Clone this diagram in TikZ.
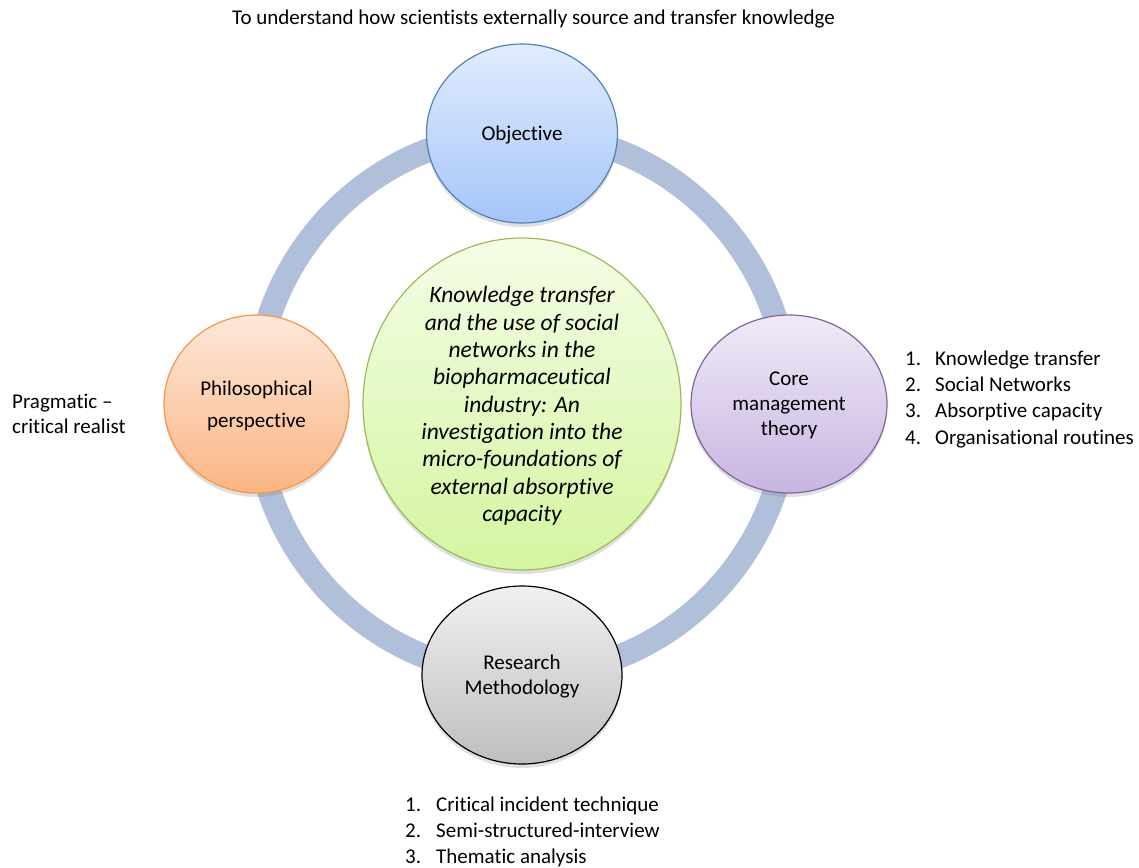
\documentclass[tikz,border=0pt]{standalone}
\usepackage{fontspec}
\setmainfont{Carlito}[Ligatures=NoCommon]
\usetikzlibrary{shapes.geometric,shadows}
\definecolor{ringblue}{RGB}{176,192,218}
\definecolor{bluetop}{RGB}{226,236,253}
\definecolor{bluebot}{RGB}{165,197,248}
\definecolor{blueedge}{RGB}{79,129,189}
\definecolor{orangetop}{RGB}{253,232,218}
\definecolor{orangebot}{RGB}{251,181,130}
\definecolor{orangeedge}{RGB}{247,150,70}
\definecolor{purpletop}{RGB}{240,234,247}
\definecolor{purplebot}{RGB}{200,181,225}
\definecolor{purpleedge}{RGB}{128,100,162}
\definecolor{greytop}{RGB}{240,240,240}
\definecolor{greybot}{RGB}{190,190,190}
\definecolor{greentop}{RGB}{244,253,230}
\definecolor{greenbot}{RGB}{212,245,160}
\definecolor{greenedge}{RGB}{155,187,89}
\begin{document}
\begin{tikzpicture}[x=1pt,y=-1pt]
\tikzstyle{every node}+=[inner sep=0pt, text depth=0pt, font=\fontsize{21}{25}\selectfont]
\tikzstyle{bubble}=[ellipse, draw, line width=1.2pt, align=center, drop shadow={opacity=0.25, shadow xshift=0pt, shadow yshift=-4pt}]
\tikzstyle{listing}=[anchor=west, align=left, font=\fontsize{21}{26.3}\selectfont]
\useasboundingbox [fill=white] (0,0) rectangle (1139,867);
\coordinate (hub) at (522,404);
\draw [ringblue, line width=24pt] (hub) circle [x radius=267pt, y radius=271pt];
\node [bubble, minimum width=318pt, minimum height=315pt, draw=greenedge, top color=greentop, bottom color=greenbot, font=\fontsize{23.5}{27.3}\selectfont\itshape] (topic) at (hub) {Knowledge transfer\\and the use of social\\networks in the\\biopharmaceutical\\industry: An\\investigation into the\\micro-foundations of\\external absorptive\\capacity};
\node [bubble, minimum width=191pt, minimum height=179pt, draw=blueedge, top color=bluetop, bottom color=bluebot] (objective) at (522,133.5) {Objective};
\node [bubble, minimum width=185pt, minimum height=178pt, draw=orangeedge, top color=orangetop, bottom color=orangebot] (philo) at (256.5,404) {Philosophical\\[7pt]perspective};
\node [bubble, minimum width=196pt, minimum height=178pt, draw=purpleedge, top color=purpletop, bottom color=purplebot] (core) at (789,404) {Core\\management\\theory};
\node [bubble, minimum width=200pt, minimum height=178pt, draw=black, top color=greytop, bottom color=greybot] (method) at (522,675) {Research\\Methodology};
\node (aim) at (533.5,17) {To understand how scientists externally source and transfer knowledge};
\node [listing, font=\fontsize{21}{25}\selectfont] (stance) at (12,413.5) {Pragmatic –\\critical realist};
\node [listing] (theories) at (905,397.5) {\makebox[30pt][l]{1.}Knowledge transfer\\\makebox[30pt][l]{2.}Social Networks\\\makebox[30pt][l]{3.}Absorptive capacity\\\makebox[30pt][l]{4.}Organisational routines};
\node [listing] (methods) at (405,830) {\makebox[31pt][l]{1.}Critical incident technique\\\makebox[31pt][l]{2.}Semi-structured-interview\\\makebox[31pt][l]{3.}Thematic analysis};
\end{tikzpicture}
\end{document}
